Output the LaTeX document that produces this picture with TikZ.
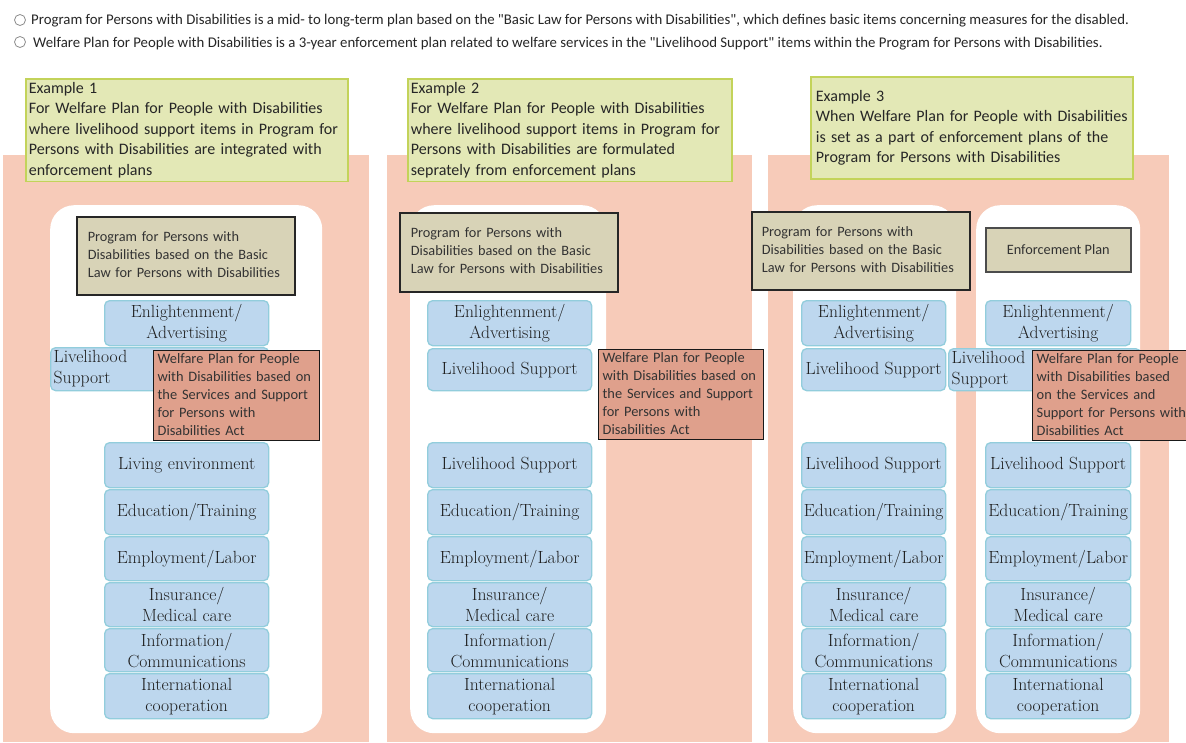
\documentclass[tikz,border=0pt]{standalone}
\usepackage{fontspec}
\newfontfamily\calfont{Carlito}
\definecolor{salmon}{HTML}{F7CBB9}
\definecolor{callfill}{HTML}{E3E8B6}
\definecolor{calldraw}{HTML}{C3D35A}
\definecolor{tanfill}{HTML}{D8D3B7}
\definecolor{bluefill}{HTML}{BDD7EE}
\definecolor{bluedraw}{HTML}{92CDDC}
\definecolor{pinkfill}{HTML}{DFA08C}
\newcommand\lns[1]{\begin{tabular}{@{}l@{}}#1\end{tabular}}
\newcommand\lowercol[4]{%
  \node[item, minimum width=#3, minimum height=45] (#1a) at (#2,442) {#4};
  \node[item, minimum width=#3, minimum height=45] (#1b) at (#2,489) {Education/Training};
  \node[item, minimum width=#3, minimum height=44] (#1c) at (#2,536) {Employment/Labor};
  \node[item, minimum width=#3, minimum height=44] (#1d) at (#2,582) {Insurance/\\Medical care};
  \node[item, minimum width=#3, minimum height=43] (#1e) at (#2,628) {Information/\\Communications};
  \node[item, minimum width=#3, minimum height=45] (#1f) at (#2,673) {International\\cooperation};
}
\tikzset{
  bg/.style={fill=salmon, draw=none, anchor=north west, inner sep=0pt},
  whitebox/.style={fill=white, draw=none, rounded corners=24pt, anchor=north west, inner sep=0pt},
  callbox/.style={draw=calldraw, fill=callfill, line width=1.8pt, anchor=north west, inner ysep=0pt,
    align=left, font=\calfont\fontsize{16}{20.5}\selectfont, text=black!85},
  progbox/.style={draw=black!85, fill=tanfill, line width=1.5pt, anchor=north west, inner xsep=11pt,
    inner ysep=0pt, align=left, font=\calfont\fontsize{14.3}{18}\selectfont, text=black!80},
  welfbox/.style={draw=black!90, fill=pinkfill, line width=1.3pt, anchor=north west, inner xsep=4pt,
    inner ysep=0pt, align=left, font=\calfont\fontsize{14.4}{18}\selectfont, text=black!80},
  item/.style={draw=bluedraw, fill=bluefill, line width=1.3pt, rounded corners=5pt, anchor=north west,
    inner sep=0pt, align=center, font=\fontsize{17.6}{21}\selectfont, text=black!88},
  radio/.style={circle, draw=black!45, line width=0.8pt, fill=white, minimum size=11pt, inner sep=0pt},
  headtext/.style={anchor=west, inner sep=0pt, font=\calfont\fontsize{14.8}{16}\selectfont, text=black!85},
}
\begin{document}
\begin{tikzpicture}[x=1pt,y=-1pt]
\useasboundingbox (0,0) rectangle (1186,742);
\fill[white] (0,0) rectangle (1186,742);

% header
\node[radio] (r1) at (20,20) {};
\node[headtext] (h1) at (31,21) {Program for Persons with Disabilities is a mid- to long-term plan based on the "Basic Law for Persons with Disabilities", which defines basic items concerning measures for the disabled.};
\node[radio] (r2) at (20,42) {};
\node[headtext] (h2) at (33,44) {Welfare Plan for People with Disabilities is a 3-year enforcement plan related to welfare services in the "Livelihood Support" items within the Program for Persons with Disabilities.};

% panel backgrounds
\node[bg, minimum width=366, minimum height=587] (bg1) at (3,155) {};
\node[bg, minimum width=365, minimum height=587] (bg2) at (387,155) {};
\node[bg, minimum width=401, minimum height=587] (bg3) at (768,155) {};

% callouts
\node[callbox, minimum width=322, minimum height=102, text width=316, inner xsep=3pt] (c1) at (25,78)
  {\lns{Example 1\\For Welfare Plan for People with Disabilities\\where livelihood support items in Program for\\Persons with Disabilities are integrated with\\enforcement plans}};
\node[callbox, minimum width=324, minimum height=102, text width=318, inner xsep=3pt] (c2) at (407,78)
  {\lns{Example 2\\For Welfare Plan for People with Disabilities\\where livelihood support items in Program for\\Persons with Disabilities are formulated\\seprately from enforcement plans}};
\node[callbox, minimum width=322, minimum height=102, text width=312, inner xsep=5pt] (c3) at (810,76)
  {\lns{Example 3\\When Welfare Plan for People with Disabilities\\is set as a part of enforcement plans of the\\Program for Persons with Disabilities}};

% white boxes
\node[whitebox, minimum width=272, minimum height=528] (w1) at (50,205) {};
\node[whitebox, minimum width=196, minimum height=528] (w2) at (410,205) {};
\node[whitebox, minimum width=163, minimum height=528] (w3) at (793,205) {};
\node[whitebox, minimum width=164, minimum height=528] (w4) at (976,205) {};

% program boxes
\node[progbox, minimum width=218, minimum height=78, text width=196] (p1) at (76,216)
  {\lns{Program for Persons with\\Disabilities based on the Basic\\Law for Persons with Disabilities}};
\node[progbox, minimum width=218, minimum height=79, text width=196] (p2) at (399,212)
  {\lns{Program for Persons with\\Disabilities based on the Basic\\Law for Persons with Disabilities}};
\node[progbox, minimum width=216, minimum height=78, text width=198, inner xsep=10pt] (p3) at (751,211)
  {\lns{Program for Persons with\\Disabilities based on the Basic\\Law for Persons with Disabilities}};
\node[progbox, draw=black!70, minimum width=145, minimum height=44, align=center, inner xsep=0pt] (ep) at (985,227)
  {Enforcement Plan};

% panel 1 items
\node[item, minimum width=164, minimum height=45] (a-enl) at (104,300) {Enlightenment/\\Advertising};
\node[item, minimum width=218, minimum height=43, align=left, text width=212, inner xsep=3pt] (a-liv) at (50,347)
  {\lns{Livelihood\\Support}};
\node[welfbox, minimum width=166, minimum height=87, text width=158] (a-wel) at (153,350)
  {\lns{Welfare Plan for People\\with Disabilities based on\\the Services and Support\\for Persons with\\Disabilities Act}};
\lowercol{a-}{104}{164}{Living environment}

% panel 2 items
\node[item, minimum width=164, minimum height=45] (b-enl) at (427,300) {Enlightenment/\\Advertising};
\node[item, minimum width=164, minimum height=42] (b-liv) at (427,348) {Livelihood Support};
\node[welfbox, minimum width=165, minimum height=87, text width=157] (b-wel) at (598,349)
  {\lns{Welfare Plan for People\\with Disabilities based on\\the Services and Support\\for Persons with\\Disabilities Act}};
\lowercol{b-}{427}{164}{Livelihood Support}

% panel 3 items, left column
\node[item, minimum width=144, minimum height=45] (c-enl) at (801,300) {Enlightenment/\\Advertising};
\node[item, minimum width=144, minimum height=42] (c-liv) at (801,348) {Livelihood Support};
\lowercol{c-}{801}{144}{Livelihood Support}

% panel 3 items, right column
\node[item, minimum width=145, minimum height=45] (d-enl) at (985,300) {Enlightenment/\\Advertising};
\node[item, minimum width=192, minimum height=42, align=left, text width=186, inner xsep=3pt] (d-liv) at (948,348)
  {\lns{Livelihood\\Support}};
\node[welfbox, minimum width=154, minimum height=87, text width=146] (d-wel) at (1032,350)
  {\lns{Welfare Plan for People\\with Disabilities based\\on the Services and\\Support for Persons with\\Disabilities Act}};
\lowercol{d-}{985}{145}{Livelihood Support}
\end{tikzpicture}
\end{document}
